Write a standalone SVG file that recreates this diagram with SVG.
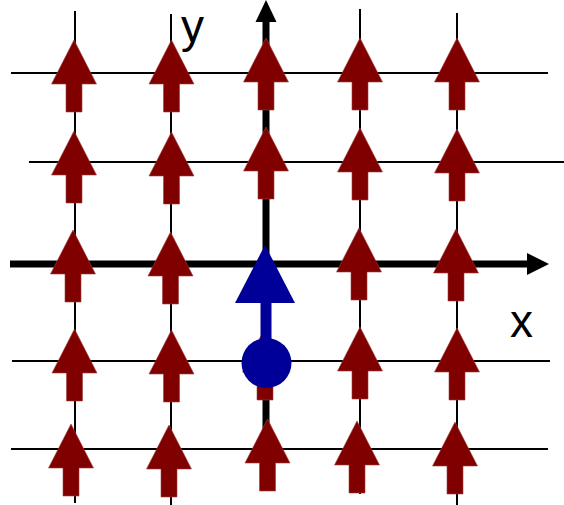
<svg xmlns="http://www.w3.org/2000/svg" xmlns:xlink="http://www.w3.org/1999/xlink" width="564" height="505" viewBox="0 0 564 505">
<style>
.grid{stroke:#000;stroke-width:2;fill:none}
.axis{stroke:#000;stroke-width:7;fill:none}
.head{fill:#000}
.spin{fill:#800000;stroke:#a04040;stroke-width:0.6}
.blue{fill:#000099}
.lbl{font-family:"Liberation Sans",Arial,sans-serif;font-size:46px;fill:#000}
</style>
<defs>
<path id="arrow" d="M0,0 L22.5,44 L8,44 L8,72 L-8,72 L-8,44 L-22.5,44 Z"/>
</defs>
<rect width="564" height="505" fill="#fff"/>
<g id="connectors">
<line class="grid" x1="11" y1="73" x2="548" y2="73"/>
<line class="grid" x1="29" y1="162" x2="564" y2="162"/>
<line class="grid" x1="12" y1="361" x2="550" y2="361"/>
<line class="grid" x1="11" y1="449" x2="548" y2="449"/>
<line class="grid" x1="75" y1="11" x2="75" y2="503"/>
<line class="grid" x1="171" y1="14" x2="171" y2="505"/>
<line class="grid" x1="360" y1="9" x2="360" y2="494"/>
<line class="grid" x1="457" y1="13" x2="457" y2="505"/>
<line class="axis" x1="10" y1="264" x2="530" y2="264"/>
<polygon class="head" points="527,253 549,264 527,275"/>
<line class="axis" x1="266" y1="440" x2="266" y2="20"/>
<polygon class="head" points="255.5,22 266,0 276.5,22"/>
</g>
<g id="spins">
<g id="s11"><use xlink:href="#arrow" class="spin" x="74" y="40"/></g>
<g id="s12"><use xlink:href="#arrow" class="spin" x="74" y="131"/></g>
<g id="s13"><use xlink:href="#arrow" class="spin" x="73" y="230"/></g>
<g id="s14"><use xlink:href="#arrow" class="spin" x="74.5" y="329"/></g>
<g id="s15"><use xlink:href="#arrow" class="spin" x="71" y="424"/></g>
<g id="s21"><use xlink:href="#arrow" class="spin" x="171.5" y="40"/></g>
<g id="s22"><use xlink:href="#arrow" class="spin" x="171.5" y="132"/></g>
<g id="s23"><use xlink:href="#arrow" class="spin" x="170.5" y="232"/></g>
<g id="s24"><use xlink:href="#arrow" class="spin" x="171.5" y="330"/></g>
<g id="s25"><use xlink:href="#arrow" class="spin" x="169" y="425"/></g>
<g id="s31"><use xlink:href="#arrow" class="spin" x="266" y="38"/></g>
<g id="s32"><use xlink:href="#arrow" class="spin" x="266" y="127"/></g>
<g id="s34"><use xlink:href="#arrow" class="spin" x="265" y="328"/></g>
<g id="s35"><use xlink:href="#arrow" class="spin" x="267.5" y="419"/></g>
<g id="s41"><use xlink:href="#arrow" class="spin" x="360" y="38"/></g>
<g id="s42"><use xlink:href="#arrow" class="spin" x="360" y="128"/></g>
<g id="s43"><use xlink:href="#arrow" class="spin" x="359" y="228"/></g>
<g id="s44"><use xlink:href="#arrow" class="spin" x="360" y="327"/></g>
<g id="s45"><use xlink:href="#arrow" class="spin" x="357" y="421"/></g>
<g id="s51"><use xlink:href="#arrow" class="spin" x="457" y="38"/></g>
<g id="s52"><use xlink:href="#arrow" class="spin" x="457" y="129"/></g>
<g id="s53"><use xlink:href="#arrow" class="spin" x="456" y="229"/></g>
<g id="s54"><use xlink:href="#arrow" class="spin" x="457" y="328"/></g>
<g id="s55"><use xlink:href="#arrow" class="spin" x="455" y="422"/></g>
</g>
<g id="particle">
<rect class="blue" x="260.5" y="300" width="11" height="45"/>
<polygon class="blue" points="265,245 295,303 235,303"/>
<circle class="blue" cx="266.5" cy="363" r="25"/>
</g>
<g id="labels">
<text class="lbl" x="181" y="42">y</text>
<text class="lbl" x="510" y="337">x</text>
</g>
</svg>
